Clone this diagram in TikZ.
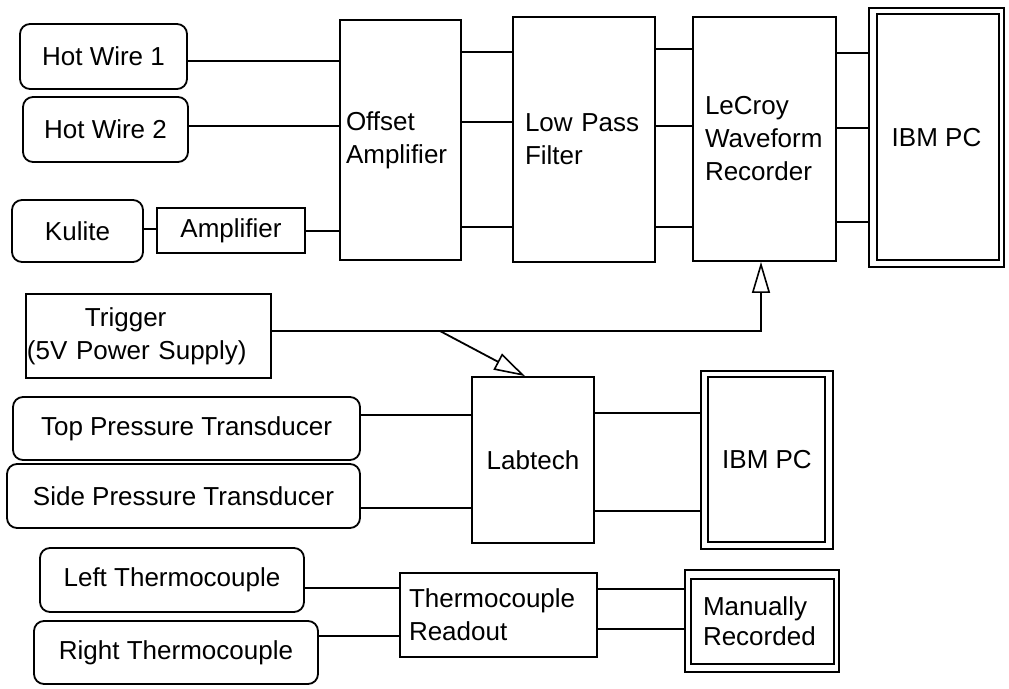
\documentclass[tikz,border=0pt]{standalone}
\usepackage{fontspec}
\setmainfont{Liberation Sans}
\usetikzlibrary{arrows.meta,calc}
\newcommand\dfont{\fontsize{26}{33}\selectfont}
\tikzset{
  box/.style={draw, line width=1.8pt, inner sep=0pt, font=\dfont},
  rbox/.style={box, rounded corners=10pt},
  wire/.style={line width=1.8pt},
  trigarrow/.style={wire, -{Triangle[open,length=31pt,width=18pt,line width=1.6pt]}},
}
\begin{document}
\begin{tikzpicture}[x=1pt,y=-1pt]
\useasboundingbox (0,0) rectangle (1009,688);
% sensors (top group)
\node[rbox, minimum width=167pt, minimum height=65pt] (hw1) at (103.5,56.5) {Hot Wire 1};
\node[rbox, minimum width=165pt, minimum height=65pt] (hw2) at (105.5,129.5) {Hot Wire 2};
\node[rbox, minimum width=131pt, minimum height=62pt] (kul) at (77.5,231) {Kulite};
\node[box, minimum width=148pt, minimum height=45pt] (amp) at (231,230.5) {Amplifier};
% processing chain
\node[box, align=left, inner xsep=6pt, text width=109pt, minimum height=240pt] (oa) at (400.5,140) {Offset\\Amplifier};
\node[box, align=left, inner xsep=12pt, text width=118pt, minimum height=245pt] (lpf) at (584,139.5) {Low Pass\\Filter};
\node[box, align=left, inner xsep=12pt, text width=119pt, minimum height=244pt] (lec) at (764.5,139) {LeCroy\\Waveform\\Recorder};
\node[box, minimum width=135pt, minimum height=259pt] (ibm1) at (936.5,137.5) {IBM PC};
\draw[wire] ($(ibm1.north west)+(9pt,-7pt)$) rectangle ($(ibm1.south east)+(-6pt,8pt)$);
% trigger
\node[box, align=left, inner xsep=1pt, text width=243pt, minimum height=84pt] (trig) at (148.5,336) {\hspace*{58pt}Trigger\\(5V Power Supply)};
% pressure group
\node[rbox, minimum width=347pt, minimum height=63pt] (tpt) at (186.5,428.5) {Top Pressure Transducer};
\node[rbox, minimum width=353pt, minimum height=64pt] (spt) at (183.5,496) {Side Pressure Transducer};
\node[box, minimum width=122pt, minimum height=166pt] (lab) at (533,460) {Labtech};
\node[box, minimum width=132pt, minimum height=178pt] (ibm2) at (767,460) {IBM PC};
\draw[wire] ($(ibm2.north west)+(8pt,-7pt)$) rectangle ($(ibm2.south east)+(-9pt,8pt)$);
% thermocouple group
\node[rbox, minimum width=264pt, minimum height=64pt] (lt) at (172,580) {Left Thermocouple};
\node[rbox, minimum width=284pt, minimum height=63pt] (rt) at (176,652.5) {Right Thermocouple};
\node[box, align=left, inner xsep=9pt, text width=179pt, minimum height=84pt] (tcr) at (498.5,615) {Thermocouple\\Readout};
\node[box, align=left, inner xsep=18pt, text width=118pt, minimum height=102pt, font=\fontsize{26}{30}\selectfont] (man) at (762,621) {Manually\\Recorded};
\draw[wire] ($(man.north west)+(7pt,-10pt)$) rectangle ($(man.south east)+(-6pt,9pt)$);
% connectors: top group
\draw[wire] (hw1.east |- 0,61) -- (oa.west |- 0,61);
\draw[wire] (hw2.east |- 0,126) -- (oa.west |- 0,126);
\draw[wire] (kul.east |- 0,229) -- (amp.west |- 0,229);
\draw[wire] (amp.east |- 0,231) -- (oa.west |- 0,231);
\draw[wire] (oa.east |- 0,52) -- (lpf.west |- 0,52);
\draw[wire] (oa.east |- 0,122) -- (lpf.west |- 0,122);
\draw[wire] (oa.east |- 0,227) -- (lpf.west |- 0,227);
\draw[wire] (lpf.east |- 0,49) -- (lec.west |- 0,49);
\draw[wire] (lpf.east |- 0,126) -- (lec.west |- 0,126);
\draw[wire] (lpf.east |- 0,227) -- (lec.west |- 0,227);
\draw[wire] (lec.east |- 0,53) -- (ibm1.west |- 0,53);
\draw[wire] (lec.east |- 0,128) -- (ibm1.west |- 0,128);
\draw[wire] (lec.east |- 0,222) -- (ibm1.west |- 0,222);
% trigger connectors
\coordinate (tj) at (761,331);
\coordinate (tk) at (440,331);
\draw[trigarrow] (trig.east |- tj) -- (tj) -- (tj |- lec.south);
\draw[trigarrow] (tk) -- (lab.north -| 525,0);
% pressure connectors
\draw[wire] (tpt.east |- 0,415) -- (lab.west |- 0,415);
\draw[wire] (spt.east |- 0,508) -- (lab.west |- 0,508);
\draw[wire] (lab.east |- 0,413) -- (ibm2.west |- 0,413);
\draw[wire] (lab.east |- 0,511) -- (ibm2.west |- 0,511);
% thermocouple connectors
\draw[wire] (lt.east |- 0,588) -- (tcr.west |- 0,588);
\draw[wire] (rt.east |- 0,636) -- (tcr.west |- 0,636);
\draw[wire] (tcr.east |- 0,589) -- (man.west |- 0,589);
\draw[wire] (tcr.east |- 0,629) -- (man.west |- 0,629);
\end{tikzpicture}
\end{document}
